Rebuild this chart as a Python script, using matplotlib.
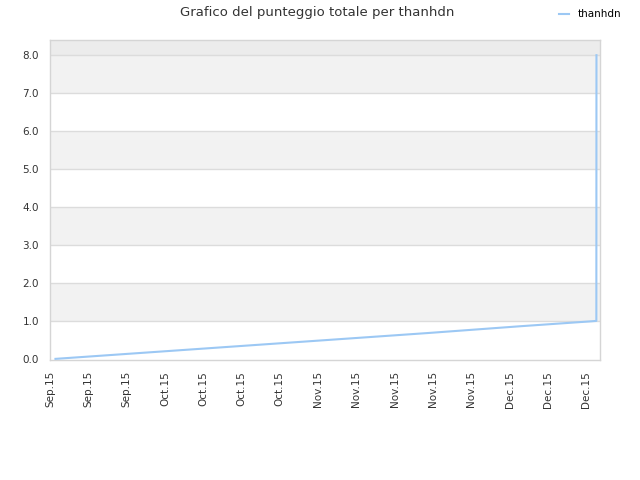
import matplotlib
matplotlib.use("Agg")
import matplotlib.pyplot as plt
import pandas as pd

title = "Grafico del punteggio totale per thanhdn"
series_name = "thanhdn"
dates = ["2015-09-14 00:00", "2015-10-01 00:00", "2015-10-18 00:00", "2015-11-04 00:00",
         "2015-11-21 00:00", "2015-12-08 00:00", "2015-12-21 00:00", "2015-12-21 20:00",
         "2015-12-21 20:30"]
scores = [0.0, 0.17, 0.34, 0.51, 0.68, 0.86, 0.99, 1.0, 8.0]
tick_dates = pd.date_range("2015-09-13", periods=15, freq="7D")
y_ticks = [0, 1, 2, 3, 4, 5, 6, 7, 8]

x = pd.to_datetime(dates, format="%Y-%m-%d %H:%M")

fig = plt.figure(figsize=(6.4, 4.8), dpi=100)
ax = fig.add_axes([50/640, 1-360/480, 550/640, 320/480])

ymin, ymax = -0.03, 8.4
ax.set_ylim(ymin, ymax)
ax.set_xlim(pd.Timestamp("2015-09-13"), pd.Timestamp("2015-12-22 12:00"))

# bands
for lo in [1, 3, 5, 7]:
    ax.axhspan(lo, lo+1, color="#f2f2f2", zorder=0, lw=0)
ax.axhspan(8, ymax, color="#ececec", zorder=0, lw=0)
for yv in y_ticks[1:]:
    ax.axhline(yv, color="#dcdcdc", lw=1, zorder=1)

ax.plot(x, scores, color="#9cc8f4", lw=1.5, label=series_name, zorder=3)

ax.set_yticks(y_ticks)
ax.set_yticklabels([f"{v:.1f}" for v in y_ticks])
ax.set_xticks(tick_dates)
ax.set_xticklabels([d.strftime("%b.%y") for d in tick_dates], rotation=90)
ax.tick_params(axis="both", length=0, labelsize=7.5, colors="#333333", pad=8)

for s in ax.spines.values():
    s.set_color("#d5d5d5")
    s.set_linewidth(1)

fig.text(0.496, 0.987, title, ha="center", va="top", fontsize=9.5, color="#333333")
fig.legend(loc="upper right", bbox_to_anchor=(0.985, 1.0), frameon=False,
           fontsize=7.5, handlelength=1.0, handletextpad=0.8)

fig.savefig("out.png", dpi=100)
